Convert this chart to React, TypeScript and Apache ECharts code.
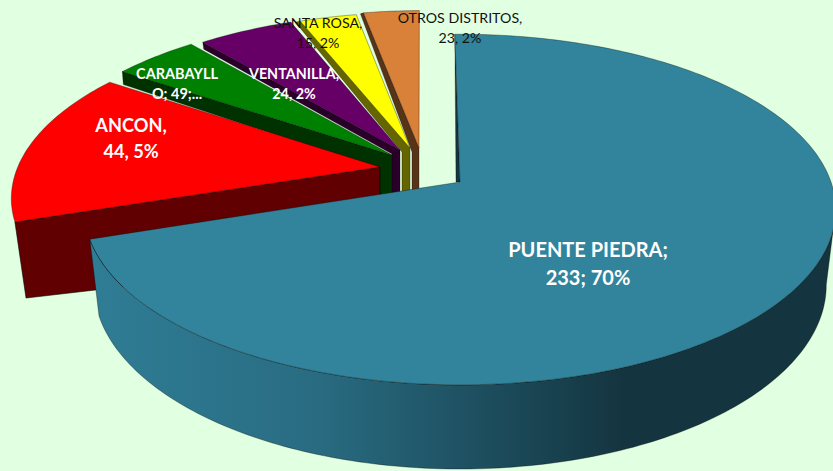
import React, { useEffect, useRef } from "react";
import * as echarts from "echarts";

// ---- data ----
const categories = ["PUENTE PIEDRA", "ANCON", "CARABAYLLO", "VENTANILLA", "SANTA ROSA", "OTROS DISTRITOS"];
const values = [233, 44, 49, 24, 15, 23];
const percentLabels = ["70%", "5%", "", "2%", "2%", "2%"];
// Share of the circle (in %) that each slice visibly covers in the picture
const sliceShares = [70.1, 14.6, 4.4, 5.0, 3.0, 2.9];

// ---- label text as printed ----
const labelLines = [
  ["PUENTE PIEDRA;", `${values[0]}; ${percentLabels[0]}`],
  ["ANCON,", `${values[1]}, ${percentLabels[1]}`],
  ["CARABAYLL", `O; ${values[2]};...`],
  ["VENTANILLA,", `${values[3]}, ${percentLabels[3]}`],
  ["SANTA ROSA,", `${values[4]}, ${percentLabels[4]}`],
  ["OTROS DISTRITOS,", `${values[5]}, ${percentLabels[5]}`],
];

// ---- styles and layout ----
const W = 833;
const H = 471;
const BG = "#E1FFE1";
const topColors = ["#31849B", "#FF0000", "#008000", "#660066", "#FFFF00", "#DA8139"];
const wallColors = ["#14343F", "#600000", "#003200", "#2A002A", "#666600", "#573417"];
const labelColors = ["#fff", "#fff", "#fff", "#fff", "#111", "#111"];
const labelWeights = ["bold", "bold", "bold", "bold", "normal", "normal"];
const labelSizes = [20, 18.2, 14.5, 14.3, 14.2, 14.2];
const labelCenters = [
  [588, 249, 28],
  [131, 125, 25.5],
  [177, 73, 20],
  [294, 73, 20],
  [318, 22, 20],
  [460, 17, 20],
];
const apexes = [
  [460, 182],
  [380, 167],
  [392, 155],
  [400, 150],
  [410, 148],
  [419, 148],
];
const radiusFactors = [1, 0.99, 0.995, 0.975, 0.97, 0.985];
// width of the visible inner wall strip at the apex and at the rim
const wallStrips = [
  [4, 0],
  [0, 0],
  [12, 0],
  [8, 0],
  [8, 5],
  [7, 3],
];
const START_DEG = -0.9;
const CX = 459;
const CY = 182;
const RX = 371;
const RY = 171;
const K = 0.157;

function project(u: number, v: number): number[] {
  const w = 1 - K * v;
  return [CX + (RX * u) / w, CY + (RY * v) / w];
}
function unproject(x: number, y: number): number[] {
  const Y = y - CY;
  const v = Y / (RY + K * Y);
  const u = ((x - CX) * (1 - K * v)) / RX;
  return [u, v];
}
function rim(apex: number[], deg: number, r: number): number[] {
  const [eu, ev] = unproject(apex[0], apex[1]);
  const a = (deg * Math.PI) / 180;
  return project(eu + r * Math.sin(a), ev - r * Math.cos(a));
}
function lower(p: number[]): number[] {
  return [CX + 0.975 * (p[0] - CX), p[1] + 74 + 0.05 * (p[1] - CY)];
}
function arcPoints(apex: number[], from: number, to: number, r: number): number[][] {
  const n = Math.max(2, Math.ceil(Math.abs(to - from)));
  const pts: number[][] = [];
  for (let i = 0; i <= n; i++) pts.push(rim(apex, from + ((to - from) * i) / n, r));
  return pts;
}

const total = sliceShares.reduce((a, b) => a + b, 0);
const sliceAngles: number[][] = [];
sliceShares.reduce((acc, s) => {
  const next = acc + (s / total) * 360;
  sliceAngles.push([acc, next]);
  return next;
}, START_DEG);

const EDGE = "rgba(0,0,0,0.55)";

function renderSlice(_: any, api: any) {
  const i = api.value(0) as number;
  const [from, to] = sliceAngles[i];
  const apex = apexes[i];
  const r = radiusFactors[i];
  const arc = arcPoints(apex, from, to, r);
  const children: any[] = [];
  if (i === 0) {
    const side = arcPoints(apex, 99, to, r);
    children.push({
      type: "polygon",
      shape: { points: [...side, ...side.map(lower).reverse()] },
      style: {
        fill: new echarts.graphic.LinearGradient(0, 0, 1, 0, [
          { offset: 0, color: "#2F7D95" },
          { offset: 0.3, color: "#296C82" },
          { offset: 0.55, color: "#1C4B5B" },
          { offset: 0.72, color: "#14343F" },
          { offset: 1, color: "#14343F" },
        ]),
        stroke: EDGE,
        lineWidth: 0.6,
      },
    });
    const s = arc[0];
    children.push({
      type: "polygon",
      shape: { points: [s, apex, [apex[0] - wallStrips[0][0], apex[1]]] },
      style: { fill: wallColors[0], stroke: EDGE, lineWidth: 0.5 },
    });
  } else if (i === 1) {
    const c = arc[0];
    children.push({
      type: "polygon",
      shape: { points: [c, apex, [apex[0], apex[1] + 90], lower(c)] },
      style: { fill: wallColors[1], stroke: "rgba(0,0,0,0.8)", lineWidth: 0.7 },
    });
  } else {
    const c = arc[0];
    const [sa, sr] = wallStrips[i];
    const rimLow = i === 2 ? [c[0] + 1, c[1] + 13] : i === 3 ? [c[0] + 1, c[1] + 7] : [c[0] - sr, c[1] + 1];
    const pts = [
      c,
      apex,
      [apex[0], apex[1] + 90],
      [apex[0] - sa, apex[1] + 90],
      [apex[0] - sa, apex[1] + (i === 2 ? 14 : 4)],
      rimLow,
    ];
    children.push({
      type: "polygon",
      shape: { points: pts },
      style: { fill: wallColors[i], stroke: EDGE, lineWidth: 0.5 },
    });
  }
  children.push({
    type: "polygon",
    shape: { points: [apex, ...arc] },
    style: { fill: topColors[i], stroke: EDGE, lineWidth: 0.6 },
  });
  return { type: "group", children };
}

function renderLabel(_: any, api: any) {
  const i = api.value(0) as number;
  const [x, y, gap] = labelCenters[i];
  return {
    type: "group",
    children: labelLines[i].map((line, j) => ({
      type: "text",
      x,
      y: y + j * gap,
      style: {
        text: line,
        fill: labelColors[i],
        font: `${labelWeights[i]} ${labelSizes[i]}px Lato, "Open Sans", sans-serif`,
        align: "center",
        verticalAlign: "middle",
      },
    })),
  };
}

export default function App() {
  const ref = useRef<HTMLDivElement>(null);
  useEffect(() => {
    document.body.style.margin = "0";
    const chart = echarts.init(ref.current!, undefined, { renderer: "svg" });
    const drawOrder = categories.map((_, i) => i).reverse();
    chart.setOption({
      animation: false,
      backgroundColor: BG,
      series: [
        {
          type: "custom",
          coordinateSystem: "none",
          silent: true,
          clip: false,
          renderItem: renderSlice,
          data: drawOrder.map((i) => ({ name: categories[i], value: [i, values[i], sliceShares[i]] })),
          z: 2,
        },
        {
          type: "custom",
          coordinateSystem: "none",
          silent: true,
          clip: false,
          renderItem: renderLabel,
          data: drawOrder.map((i) => ({ name: categories[i], value: [i, values[i]] })),
          z: 3,
        },
      ],
    });
    return () => chart.dispose();
  }, []);
  return <div ref={ref} style={{ width: W, height: H }} />;
}
